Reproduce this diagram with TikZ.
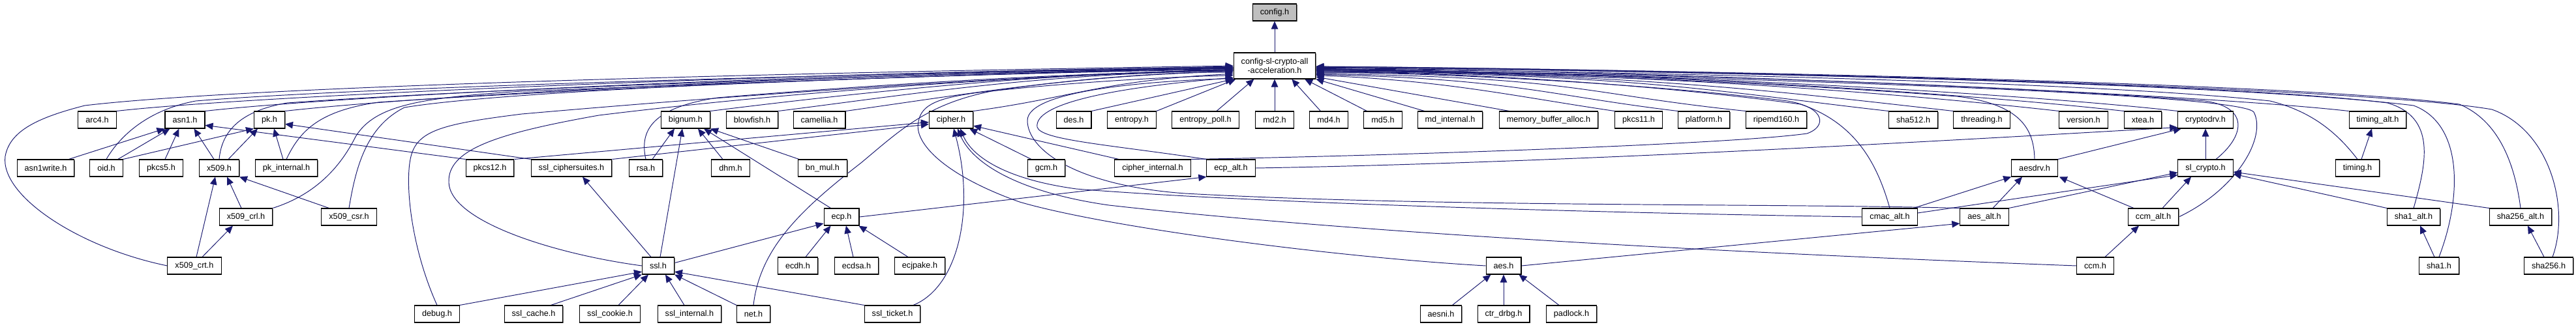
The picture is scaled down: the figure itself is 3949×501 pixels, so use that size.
\documentclass[tikz,border=0pt]{standalone}
\usepackage{fontspec}
\setmainfont{Liberation Sans}
\usetikzlibrary{arrows.meta,calc,shadows}
\definecolor{edgeblue}{HTML}{191970}
\definecolor{cfggray}{HTML}{BFBFBF}
\newcommand\dgfont{\fontsize{7.2pt}{8.4pt}\selectfont}
\pgfdeclarelayer{bglayer}
\pgfdeclarelayer{edgelayer}
\pgfsetlayers{bglayer,edgelayer,main}
\begin{document}
\begin{tikzpicture}[x=0.02cm,y=-0.02cm,
 box/.style={draw=black, fill=white, line width=0.6pt, minimum height=0.52cm, inner xsep=0.23cm, inner ysep=0pt, font=\dgfont,
   drop shadow={shadow xshift=0.6pt,shadow yshift=-0.6pt,fill=black!55,opacity=1}},
 e/.style={draw=edgeblue, line width=0.55pt, -{Triangle[length=0.24cm,width=0.21cm]}},
]
\begin{pgfonlayer}{bglayer}
\fill[white] (0,0) rectangle (3949,501);
\end{pgfonlayer}
\useasboundingbox (0,0) rectangle (3949,501);

% ---------- nodes ----------
\node[box,fill=cfggray] (config) at (1954,19) {config.h};
\node[box,align=center,minimum height=0.8cm] (csl) at (1954,101) {config-sl-crypto-all\\-acceleration.h};

% row 2
\node[box] (arc4) at (149,184) {arc4.h};
\node[box] (asn1) at (283.5,184) {asn1.h};
\node[box] (pk) at (413,184) {pk.h};
\node[box] (bignum) at (1051,184) {bignum.h};
\node[box] (blowfish) at (1153,184) {blowfish.h};
\node[box] (camellia) at (1256,184) {camellia.h};
\node[box] (cipher) at (1458,184) {cipher.h};
\node[box] (des) at (1646,184) {des.h};
\node[box] (entropy) at (1735,184) {entropy.h};
\node[box] (entropypoll) at (1848,184) {entropy\_poll.h};
\node[box] (md2) at (1954,184) {md2.h};
\node[box] (md4) at (2037,184) {md4.h};
\node[box] (md5) at (2120,184) {md5.h};
\node[box] (mdinternal) at (2223,184) {md\_internal.h};
\node[box] (mba) at (2374,184) {memory\_buffer\_alloc.h};
\node[box] (pkcs11) at (2512,184) {pkcs11.h};
\node[box] (platform) at (2612,184) {platform.h};
\node[box] (ripemd) at (2723,184) {ripemd160.h};
\node[box] (sha512) at (2933,184) {sha512.h};
\node[box] (threading) at (3038,184) {threading.h};
\node[box] (version) at (3194,184) {version.h};
\node[box] (xtea) at (3285,184) {xtea.h};
\node[box] (cryptodrv) at (3381,184) {cryptodrv.h};
\node[box] (timingalt) at (3645,184) {timing\_alt.h};

% row 3
\node[box] (asn1write) at (70,258) {asn1write.h};
\node[box] (oid) at (163,258) {oid.h};
\node[box] (pkcs5) at (247,258) {pkcs5.h};
\node[box] (x509) at (336,258) {x509.h};
\node[box] (pkinternal) at (439,258) {pk\_internal.h};
\node[box] (pkcs12) at (751,258) {pkcs12.h};
\node[box] (sslcs) at (876,258) {ssl\_ciphersuites.h};
\node[box] (rsa) at (990,258) {rsa.h};
\node[box] (dhm) at (1120,258) {dhm.h};
\node[box] (bnmul) at (1261,258) {bn\_mul.h};
\node[box] (gcm) at (1604,258) {gcm.h};
\node[box] (cipherint) at (1767,258) {cipher\_internal.h};
\node[box] (ecpalt) at (1887,258) {ecp\_alt.h};
\node[box] (aesdrv) at (3119,258) {aesdrv.h};
\node[box] (slcrypto) at (3381,258) {sl\_crypto.h};
\node[box] (timing) at (3614,258) {timing.h};

% row 4
\node[box] (x509crl) at (377,333) {x509\_crl.h};
\node[box] (x509csr) at (535,333) {x509\_csr.h};
\node[box] (ecp) at (1290,333) {ecp.h};
\node[box] (cmacalt) at (2897,333) {cmac\_alt.h};
\node[box] (aesalt) at (3042,333) {aes\_alt.h};
\node[box] (ccmalt) at (3301,333) {ccm\_alt.h};
\node[box] (sha1alt) at (3700,333) {sha1\_alt.h};
\node[box] (sha256alt) at (3864,333) {sha256\_alt.h};

% row 5
\node[box] (x509crt) at (298,408) {x509\_crt.h};
\node[box] (ssl) at (1009,408) {ssl.h};
\node[box] (ecdh) at (1223,408) {ecdh.h};
\node[box] (ecdsa) at (1313,408) {ecdsa.h};
\node[box] (ecjpake) at (1410,408) {ecjpake.h};
\node[box] (aes) at (2305,408) {aes.h};
\node[box] (ccm) at (3212,408) {ccm.h};
\node[box] (sha1) at (3739,408) {sha1.h};
\node[box] (sha256) at (3907,408) {sha256.h};

% row 6
\node[box] (debug) at (670,482) {debug.h};
\node[box] (sslcache) at (818,482) {ssl\_cache.h};
\node[box] (sslcookie) at (935,482) {ssl\_cookie.h};
\node[box] (sslinternal) at (1057,482) {ssl\_internal.h};
\node[box] (net) at (1155,482) {net.h};
\node[box] (sslticket) at (1368,482) {ssl\_ticket.h};
\node[box] (aesni) at (2209,482) {aesni.h};
\node[box] (ctrdrbg) at (2305,482) {ctr\_drbg.h};
\node[box] (padlock) at (2409,482) {padlock.h};

\begin{pgfonlayer}{edgelayer}
% top
\draw[e] (csl.north) -- (config.south);

% row 2 (left) -> csl
\draw[e] (arc4.north east) .. controls +(250,-28) and +(-500,4) .. (csl.182);
\draw[e] (asn1.north east) .. controls +(250,-28) and +(-500,4) .. (csl.183);
\draw[e] (pk.north east) .. controls +(250,-28) and +(-500,4) .. (csl.184);
\draw[e] (bignum.north east) .. controls +(200,-25) and +(-300,4) .. (csl.186);
\draw[e] (blowfish.north east) .. controls +(200,-25) and +(-300,4) .. (csl.187);
\draw[e] (camellia.north east) .. controls +(180,-25) and +(-250,6) .. (csl.188);
\draw[e] (cipher.north east) .. controls +(150,-20) and +(-200,10) .. (csl.191);
\draw[e] (des.north east) -- (csl.south west);
\draw[e] (entropy.north east) -- (csl.199);
\draw[e] ($(entropypoll.north)+(17,0)$) -- (csl.213);
\draw[e] (md2.north) -- (csl.south);
% row 2 (right) -> csl
\draw[e] ($(md4.north west)+(17,0)$) -- (csl.322);
\draw[e] ($(md5.north west)+(5,0)$) -- (csl.336);
\draw[e] ($(mdinternal.north west)+(11,0)$) -- (csl.south east);
\draw[e] ($(mba.north west)+(16,0)$) -- (csl.-15);
\draw[e] (pkcs11.north west) .. controls +(-150,-22) and +(200,8) .. (csl.-13);
\draw[e] (platform.north west) .. controls +(-200,-24) and +(300,6) .. (csl.-12);
\draw[e] (ripemd.north west) .. controls +(-250,-26) and +(400,5) .. (csl.-11);
\draw[e] (sha512.north west) .. controls +(-250,-28) and +(500,4) .. (csl.-8);
\draw[e] (threading.north west) .. controls +(-250,-28) and +(500,4) .. (csl.-7);
\draw[e] (version.north west) .. controls +(-250,-28) and +(500,4) .. (csl.-6);
\draw[e] (xtea.north west) .. controls +(-250,-28) and +(500,4) .. (csl.-5);
\draw[e] (cryptodrv.north west) .. controls +(-250,-28) and +(500,4) .. (csl.-5);
\draw[e] (timingalt.north west) .. controls +(-250,-28) and +(500,4) .. (csl.-3);

% lower-left curves -> csl
\draw[e] (x509crt.west) .. controls (120,380) and (0,300) .. (8,240)
   .. controls (15,200) and (60,180) .. (130,162)
   .. controls (400,130) and (1300,110) .. (csl.180);
\draw[e] (oid.north) .. controls (180,215) and (220,170) .. (300,155)
   .. controls (600,130) and (1500,110) .. (csl.181);
\draw[e] (x509.north) .. controls (340,200) and (370,170) .. (440,158)
   .. controls (800,132) and (1500,112) .. (csl.182);
\draw[e] (pkinternal.north) .. controls (460,200) and (490,170) .. (580,157)
   .. controls (900,135) and (1500,112) .. (csl.183);
\draw[e] (x509crl.north east) .. controls (480,300) and (520,260) .. (545,210)
   .. controls (575,160) and (650,150) .. (800,140)
   .. controls (1200,125) and (1600,110) .. (csl.184);
\draw[e] (x509csr.north) .. controls (545,260) and (560,195) .. (620,165)
   .. controls (800,135) and (1500,112) .. (csl.185);
\draw[e] (debug.north) .. controls (630,380) and (620,280) .. (630,240)
   .. controls (640,200) and (680,190) .. (800,175)
   .. controls (1200,140) and (1600,115) .. (csl.185);
\draw[e] (ssl.west) .. controls (850,390) and (690,340) .. (688,280)
   .. controls (686,230) and (760,205) .. (918,177)
   .. controls (1300,130) and (1700,112) .. (csl.186);
\draw[e] (rsa.north) .. controls (980,200) and (1000,165) .. (1100,150)
   .. controls (1400,125) and (1700,110) .. (csl.187);
\draw[e] (net.north) .. controls (1165,380) and (1230,320) .. (1320,250)
   .. controls (1380,200) and (1420,160) .. (1520,140)
   .. controls (1650,120) and (1800,110) .. (csl.189);
\draw[e] (aes.west) .. controls (2050,395) and (1700,350) .. (1563,310)
   .. controls (1450,270) and (1400,220) .. (1408,187)
   .. controls (1412,160) and (1440,150) .. (1500,142)
   .. controls (1650,125) and (1800,118) .. (csl.193);
\draw[e] (ecpalt.north west) .. controls (1700,222) and (1595,215) .. (1590,195)
   .. controls (1585,160) and (1700,135) .. (csl.196);
\draw[e] (aesalt.north west) .. controls (2700,312) and (2200,318) .. (1817,297)
   .. controls (1650,285) and (1575,230) .. (1575,185)
   .. controls (1575,140) and (1750,125) .. (csl.197);

% right curves -> csl
\draw[e] (cipherint.north east) .. controls (2100,240) and (2650,222) .. (2770,205)
   .. controls (2800,195) and (2800,165) .. (2740,155)
   .. controls (2500,125) and (2150,110) .. (csl.-10);
\draw[e] (cmacalt.north) .. controls (2880,260) and (2850,190) .. (2760,160)
   .. controls (2500,125) and (2200,110) .. (csl.-9);
\draw[e] (aesdrv.north) .. controls (3118,200) and (3100,160) .. (3000,148)
   .. controls (2700,125) and (2300,110) .. (csl.-7);
\draw[e] ($(slcrypto.north)+(16,0)$) .. controls (3440,210) and (3450,165) .. (3380,155)
   .. controls (3000,125) and (2400,110) .. (csl.-6);
\draw[e] (ccmalt.east) .. controls (3430,290) and (3475,210) .. (3455,172)
   .. controls (3430,140) and (2500,115) .. (csl.-4);
\draw[e] (timing.north) .. controls (3580,200) and (3540,170) .. (3480,155)
   .. controls (3200,125) and (2500,110) .. (csl.-4);
\draw[e] (sha1alt.north) .. controls (3720,250) and (3735,180) .. (3660,158)
   .. controls (3400,125) and (2500,108) .. (csl.-2);
\draw[e] (sha1.north) .. controls (3775,300) and (3775,190) .. (3700,162)
   .. controls (3400,125) and (2500,107) .. (csl.-2);
\draw[e] (sha256alt.north) .. controls (3855,250) and (3830,185) .. (3770,160)
   .. controls (3500,125) and (2500,106) .. (csl.-1);
\draw[e] ($(sha256.north)+(6,0)$) .. controls (3940,320) and (3910,200) .. (3820,168)
   .. controls (3600,130) and (2500,105) .. (csl.-1);

% asn1 / pk / x509 cluster
\draw[e] ($(asn1write.north east)+(-9,0)$) -- (asn1.south west);
\draw[e] ($(oid.north east)+(-8,0)$) -- ($(asn1.south west)+(8,0)$);
\draw[e] ($(pkcs5.north)+(6,0)$) -- ($(asn1.south west)+(22,0)$);
\draw[e] ($(x509.north)+(-8,0)$) -- ($(asn1.south west)+(45,0)$);
\draw[e] (oid.north east) -- (pk.south west);
\draw[e] ($(x509.north)+(14,0)$) -- ($(pk.south west)+(6,0)$);
\draw[e] ($(pkinternal.north)+(-5,0)$) -- ($(pk.south)+(7,0)$);
\draw[e] (pkcs12.north west) -- (asn1.-15);
\draw[e] (sslcs.north west) -- (pk.-15);
\draw[e] ($(x509crt.north)+(3,0)$) -- ($(x509.south)+(-6,0)$);
\draw[e] ($(x509crl.north)+(-7,0)$) -- ($(x509.south)+(12,0)$);
\draw[e] ($(x509csr.north west)+(12,0)$) -- (x509.south east);
\draw[e] ($(x509crt.north)+(12,0)$) -- ($(x509crl.south)+(-20,0)$);

% cipher
\draw[e] (pkcs12.north east) -- (cipher.186);
\draw[e] (sslcs.north east) -- (cipher.191);
\draw[e] ($(gcm.north)+(-23,0)$) -- ($(cipher.south east)+(-6,0)$);
\draw[e] ($(cipherint.north west)+(7,0)$) -- (cipher.-15);
\draw[e] ($(sslticket.north)+(32,0)$) .. controls (1470,440) and (1495,320) .. ($(cipher.south)+(4,0)$);
\draw[e] (cmacalt.west) .. controls (2400,326) and (1900,310) .. (1650,290)
   .. controls (1540,275) and (1490,240) .. ($(cipher.south)+(14,0)$);
\draw[e] (ccm.west) .. controls (2700,390) and (2100,360) .. (1700,315)
   .. controls (1560,295) and (1490,250) .. ($(cipher.south)+(10,0)$);

% bignum / ssl / ecp
\draw[e] ($(rsa.north)+(10,0)$) -- ($(bignum.south)+(-17,0)$);
\draw[e] ($(ssl.north)+(3,0)$) -- ($(bignum.south)+(-5,0)$);
\draw[e] ($(dhm.north)+(-12,0)$) -- ($(bignum.south)+(19,0)$);
\draw[e] ($(ecp.north west)+(11,0)$) -- ($(bignum.south)+(28,0)$);
\draw[e] ($(bnmul.north west)+(2,0)$) -- (bignum.south east);
\draw[e] ($(ssl.north)+(-11,0)$) -- ($(sslcs.south)+(17,0)$);
\draw[e] (ssl.10) -- (ecp.200);
\draw[e] ($(ecdh.north)+(12,0)$) -- ($(ecp.south west)+(11,0)$);
\draw[e] ($(ecdsa.north)+(-5,0)$) -- ($(ecp.south)+(7,0)$);
\draw[e] ($(ecjpake.north)+(-18,0)$) -- ($(ecp.south east)+(-1,0)$);
\draw[e] (ecp.east) -- (ecpalt.south west);
\draw[e] (debug.north east) -- (ssl.200);
\draw[e] ($(sslcache.north east)+(-19,0)$) -- (ssl.south west);
\draw[e] ($(sslcookie.north)+(13,0)$) -- ($(ssl.south west)+(10,0)$);
\draw[e] ($(sslinternal.north)+(-8,0)$) -- ($(ssl.south)+(11,0)$);
\draw[e] (net.north west) -- (ssl.south east);
\draw[e] (sslticket.north west) -- (ssl.-20);

% aes / crypto cluster
\draw[e] ($(aesni.north east)+(-15,0)$) -- ($(aes.south west)+(8,0)$);
\draw[e] (ctrdrbg.north) -- (aes.south);
\draw[e] ($(padlock.north west)+(20,0)$) -- ($(aes.south east)+(-4,0)$);
\draw[e] (aes.east) -- (aesalt.195);
\draw[e] ($(cmacalt.north east)+(-6,0)$) -- (aesdrv.south west);
\draw[e] ($(aesalt.north)+(13,0)$) -- ($(aesdrv.south)+(-19,0)$);
\draw[e] ($(ccmalt.north west)+(9,0)$) -- ($(aesdrv.south east)+(2,0)$);
\draw[e] ($(cmacalt.east)+(0,-6)$) -- (slcrypto.194);
\draw[e] (aesalt.north east) -- (slcrypto.189);
\draw[e] ($(ccmalt.north)+(14,0)$) -- ($(slcrypto.south)+(-22,0)$);
\draw[e] (sha1alt.north west) -- (slcrypto.-12);
\draw[e] (sha256alt.north west) -- (slcrypto.-8);
\draw[e] (slcrypto.north) -- (cryptodrv.south);
\draw[e] (ecpalt.east) .. controls (2400,250) and (3000,215) .. (cryptodrv.195);
\draw[e] (aesdrv.north east) -- (cryptodrv.200);
\draw[e] ($(ccm.north)+(15,0)$) -- ($(ccmalt.south)+(-22,0)$);
\draw[e] ($(sha1.north)+(-7,0)$) -- ($(sha1alt.south)+(10,0)$);
\draw[e] ($(sha256.north)+(-7,0)$) -- ($(sha256alt.south)+(11,0)$);
\draw[e] ($(timing.north)+(6,0)$) -- ($(timingalt.south)+(-9,0)$);
\end{pgfonlayer}
\end{tikzpicture}
\end{document}
